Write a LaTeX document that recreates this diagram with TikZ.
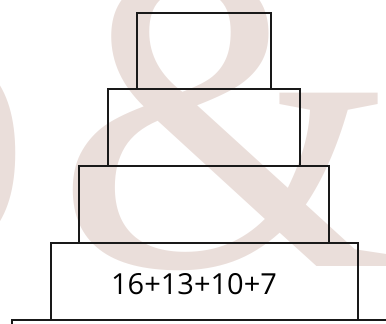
\documentclass[tikz,border=0pt]{standalone}
\usepackage{fontspec}
\setmainfont{Open Sans}
\newfontfamily\wmfont{Liberation Serif}
\definecolor{wm}{RGB}{234,222,218}
\begin{document}
\begin{tikzpicture}[x=1pt,y=-1pt,
  tier/.style={draw=black!90,line width=1.8pt,fill=none},
  wmtext/.style={text=wm,inner sep=0pt,anchor=base west,font=\wmfont\fontsize{440}{440}\selectfont}]
\useasboundingbox (0,0) rectangle (386,324);
\begin{scope}
\clip (0,0) rectangle (386,324);
\node[wmtext] (amp) at (56,266) {\&};
\node[wmtext] (oo) at (-188,255) {o};
\end{scope}
\draw[tier] (137,13) rectangle (271,89);
\draw[tier] (108,89) rectangle (300,166);
\draw[tier] (79,166) rectangle (329,243);
\draw[tier] (51,243) rectangle (358,320);
\node[inner sep=0pt,font=\fontsize{29}{29}\selectfont] (lbl) at (194,284) {16+13+10+7};
\draw[tier] (12,330) -- (12,320) -- (390,320);
\end{tikzpicture}
\end{document}
